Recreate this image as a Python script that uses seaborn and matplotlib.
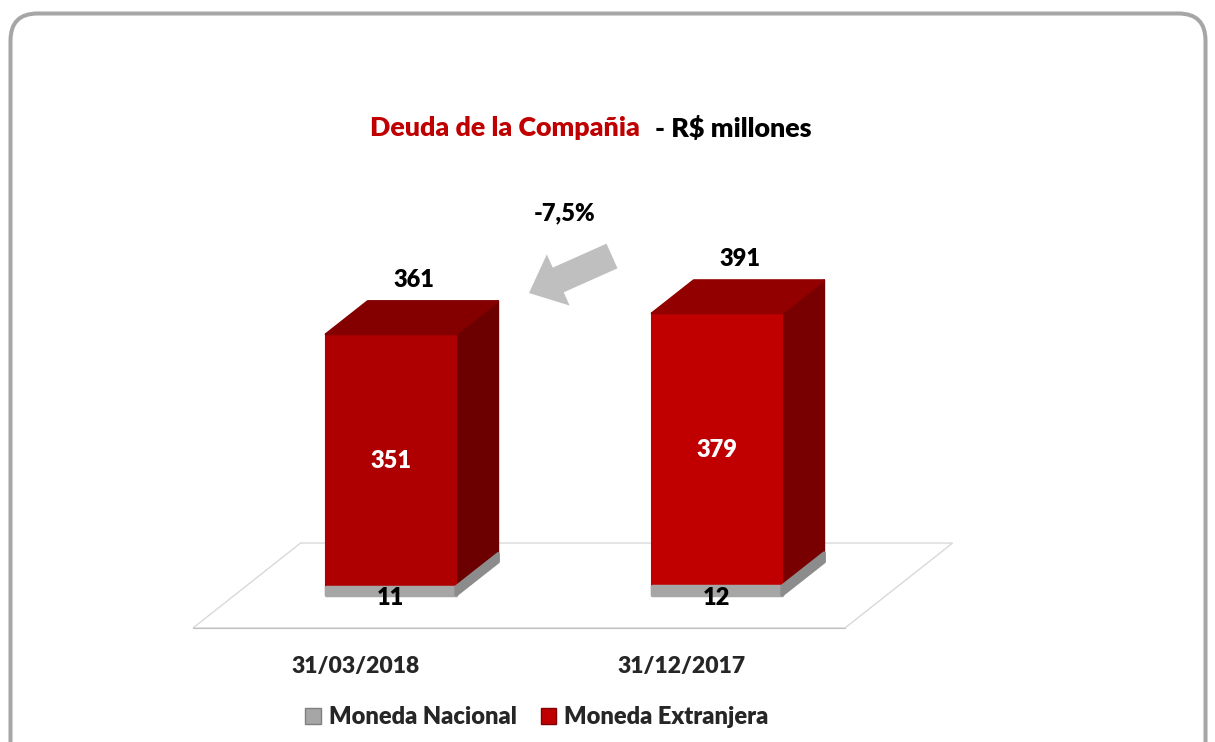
import matplotlib.pyplot as plt
import matplotlib.patches as mpatches
import matplotlib.transforms as mtransforms
import pandas as pd
import seaborn as sns

# Data
fechas = ['31/03/2018', '31/12/2017']
nacional = [11, 12]
extranjera = [351, 379]
totales = [361, 391]

sns.set_style('white')
plt.rcParams['font.family'] = ['Lato', 'DejaVu Sans']
PESO = 'heavy'
plt.rcParams['font.weight'] = PESO

df = pd.DataFrame({'fecha': fechas, 'nacional': nacional, 'extranjera': extranjera})
df['apilado'] = df['nacional'] + df['extranjera']

W, H = 1215, 742
fig = plt.figure(figsize=(W / 100, H / 100), dpi=100)
px = mtransforms.IdentityTransform()

# rounded frame around the chart
frame = mpatches.FancyBboxPatch((10.5, -40), 1195, 768.5,
                                boxstyle='round,pad=0,rounding_size=27',
                                fc='none', ec='#A6A6A6', lw=2.9, transform=px)
fig.patches.append(frame)

# axes: x from -0.5..1.5 maps to px 193..845, baseline px 628
ax = fig.add_axes([193 / W, (H - 628) / H, (845 - 193) / W, (628 - 40) / H])
ybot = -46
ax.set_xlim(-0.5, 1.5)
ax.set_ylim(ybot, ybot + 588 / 0.72)

rojos_frente = ['#AE0000', '#C00000']
rojos_arriba = ['#840000', '#920000']
rojos_lado = ['#6C0000', '#780000']

# stacked bars: total in red, national part in gray drawn over its bottom
sns.barplot(data=df, x='fecha', y='apilado', hue='fecha', palette=rojos_frente,
            saturation=1, width=0.4, legend=False, ax=ax)
sns.barplot(data=df, x='fecha', y='nacional', color='#A6A6A6', saturation=1,
            width=0.4, ax=ax)

shift = 0.107   # bars stand in the middle of the floor depth
dx, dy = 0.129, 46  # depth of the boxes

n = len(fechas)
for i, p in enumerate(ax.patches):
    p.set_x(p.get_x() + shift)
    x0, x1 = p.get_x(), p.get_x() + p.get_width()
    y0, y1 = p.get_y(), p.get_y() + p.get_height()
    gris = i >= n
    k = i % n
    p.set_edgecolor(p.get_facecolor())
    p.set_joinstyle('round')
    if gris:
        p.set_zorder(5)
        p.set_linewidth(2.5)
        top_c, side_c, z_top, z_side = '#BFBFBF', '#8C8C8C', 2, 5
    else:
        p.set_zorder(4)
        p.set_linewidth(1.5)
        top_c, side_c, z_top, z_side = rojos_arriba[k], rojos_lado[k], 4, 3
    ax.add_patch(mpatches.Polygon([(x0, y1), (x1, y1), (x1 + dx, y1 + dy), (x0 + dx, y1 + dy)],
                                  closed=True, fc=top_c, ec=top_c, lw=1.5, joinstyle='round',
                                  zorder=z_top))
    ax.add_patch(mpatches.Polygon([(x1, y0), (x1 + dx, y0 + dy), (x1 + dx, y1 + dy), (x1, y1)],
                                  closed=True, fc=side_c, ec=side_c, lw=1.5 if not gris else 2.5,
                                  joinstyle='round', zorder=z_side))

# floor
fdx, fdy = 0.33, 118
floor = mpatches.Polygon([(-0.5, ybot), (1.5, ybot), (1.5 + fdx, ybot + fdy), (-0.5 + fdx, ybot + fdy)],
                         closed=True, fc='white', ec='#D9D9D9', lw=1, zorder=1, clip_on=False)
ax.add_patch(floor)

# axis
for s in ['top', 'right', 'left']:
    ax.spines[s].set_visible(False)
ax.spines['bottom'].set_color('#BFBFBF')
ax.spines['bottom'].set_zorder(6)
ax.set_yticks([])
ax.set_xticks([-0.5, 0.5, 1.5], minor=True)
ax.tick_params(axis='x', which='minor', length=7, color='#BFBFBF', direction='out')
ax.tick_params(axis='x', which='major', length=0, pad=20, labelsize=16.5)
ax.set_xticks(range(n))
ax.set_xticklabels(fechas, fontweight=PESO)
ax.set_xlabel('')
ax.set_ylabel('')

# value labels
for i in range(n):
    xc = i + shift
    ax.text(xc + dx * 0.55, nacional[i] + extranjera[i] + dy + 30, str(totales[i]),
            ha='center', va='center', fontsize=17, fontweight=PESO, color='black', zorder=7)
    ax.text(xc, nacional[i] + extranjera[i] / 2, str(extranjera[i]),
            ha='center', va='center', fontsize=17, fontweight=PESO, color='white', zorder=7)
    ax.text(xc, -5, str(nacional[i]),
            ha='center', va='center', fontsize=17, fontweight=PESO, color='black', zorder=7)

# title
fig.text(640 / W, 1 - 128 / H, 'Deuda de la Compañia', ha='right', va='center',
         fontsize=19.4, fontweight=PESO, color='#C00000')
fig.text(655 / W, 1 - 128 / H, '- R$ millones', ha='left', va='center',
         fontsize=19.4, fontweight=PESO, color='black')

# variation arrow
fig.text(565 / W, 1 - 213 / H, '-7,5%', ha='center', va='center',
         fontsize=17, fontweight=PESO, color='black')
arrow = mpatches.FancyArrow(612, H - 256, 529 - 612, (H - 293) - (H - 256), width=27,
                            head_width=56, head_length=32, length_includes_head=True,
                            fc='#BFBFBF', ec='none', transform=px)
fig.patches.append(arrow)

# legend
handles = [mpatches.Patch(fc='#A6A6A6', ec='#7F7F7F', label='Moneda Nacional'),
           mpatches.Patch(fc='#C00000', ec='#7F0000', label='Moneda Extranjera')]
fig.legend(handles=handles, loc='center', bbox_to_anchor=(537 / W, 1 - 717 / H), ncol=2,
           frameon=False, prop={'weight': PESO, 'size': 17}, handlelength=0.65,
           handleheight=0.65, handletextpad=0.35, columnspacing=1.0)

fig.savefig('out.png', dpi=100)
